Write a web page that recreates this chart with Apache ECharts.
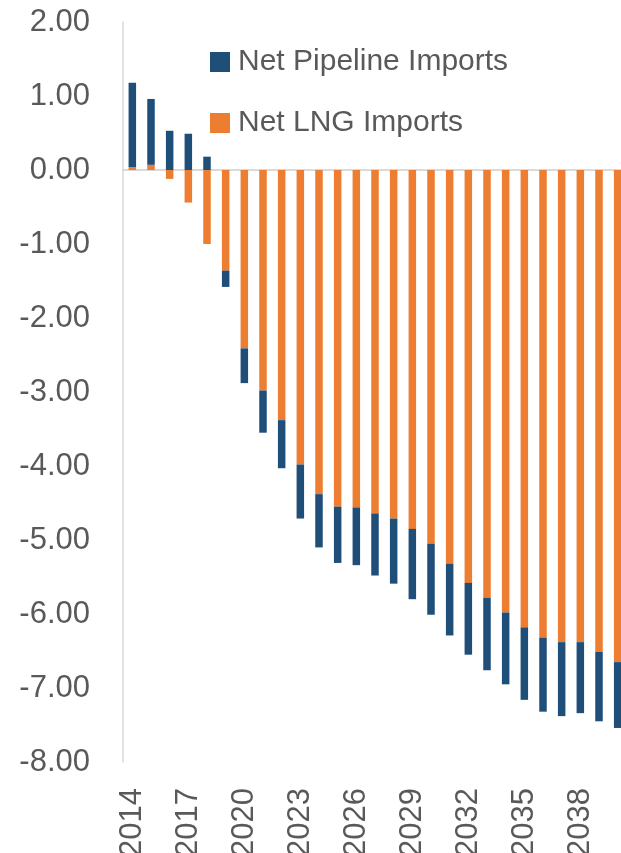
<!DOCTYPE html>
<html lang="en">
<head>
	<meta charset="UTF-8">
	<title>net imports</title>
	<style>
		html, body { margin: 0; padding: 0; background: #fff; }
		#chart { width: 621px; height: 853px; }
	</style>
</head>
<body>
	<div id="chart"></div>
	<script src="https://cdn.jsdelivr.net/npm/echarts@6/dist/echarts.min.js"></script>
	<script>
		var years = ['2014','2015','2016','2017','2018','2019','2020','2021','2022','2023',
			'2024','2025','2026','2027','2028','2029','2030','2031','2032','2033',
			'2034','2035','2036','2037','2038','2039','2040'];
		var lngImports = [0.04, 0.07, -0.12, -0.44, -1.00, -1.36, -2.41, -2.98, -3.38, -3.98,
			-4.38, -4.55, -4.56, -4.64, -4.71, -4.85, -5.05, -5.32, -5.58, -5.78,
			-5.98, -6.18, -6.32, -6.38, -6.38, -6.51, -6.65];
		var pipelineImports = [1.14, 0.89, 0.53, 0.49, 0.18, -0.22, -0.47, -0.57, -0.65, -0.73,
			-0.72, -0.76, -0.78, -0.84, -0.88, -0.95, -0.96, -0.97, -0.97, -0.98,
			-0.97, -0.98, -1.00, -1.00, -0.96, -0.94, -0.89];

		var grey = '#595959';
		var font = '"Liberation Sans", Arial, sans-serif';

		var myChart = echarts.init(document.getElementById('chart'));

		var option = {
			backgroundColor: '#fff',
			animation: false,
			grid: {
				left: 123,
				right: -6,
				top: 22,
				bottom: 91,
				containLabel: false,
				outerBoundsMode: 'none'
			},
			legend: {
				orient: 'vertical',
				left: 210,
				top: 47,
				padding: 0,
				itemWidth: 20,
				itemHeight: 20,
				itemGap: 31,
				icon: 'rect',
				data: ['Net Pipeline Imports', 'Net LNG Imports'],
				textStyle: {
					color: grey,
					fontSize: 30,
					fontFamily: font,
					padding: [0, 0, 0, 3]
				}
			},
			xAxis: {
				type: 'category',
				data: years,
				axisLine: { onZero: true, lineStyle: { color: '#d9d9d9', width: 2 } },
				axisTick: { show: false },
				axisLabel: {
					interval: 2,
					rotate: 90,
					margin: 26,
					color: grey,
					fontSize: 31,
					fontFamily: font
				}
			},
			yAxis: {
				type: 'value',
				min: -8,
				max: 2,
				interval: 1,
				splitLine: { show: false },
				axisTick: { show: false },
				axisLine: { show: true, lineStyle: { color: '#d9d9d9', width: 1.5 } },
				axisLabel: {
					margin: 33,
					color: grey,
					fontSize: 31,
					fontFamily: font,
					formatter: function (v) { return v.toFixed(2); }
				}
			},
			series: [
				{
					name: 'Net LNG Imports',
					type: 'bar',
					stack: 'imports',
					barWidth: 7.5,
					itemStyle: { color: '#ED7D31' },
					data: lngImports
				},
				{
					name: 'Net Pipeline Imports',
					type: 'bar',
					stack: 'imports',
					barWidth: 7.5,
					itemStyle: { color: '#1F4E79' },
					data: pipelineImports
				}
			]
		};

		myChart.setOption(option);
	</script>
</body>
</html>
